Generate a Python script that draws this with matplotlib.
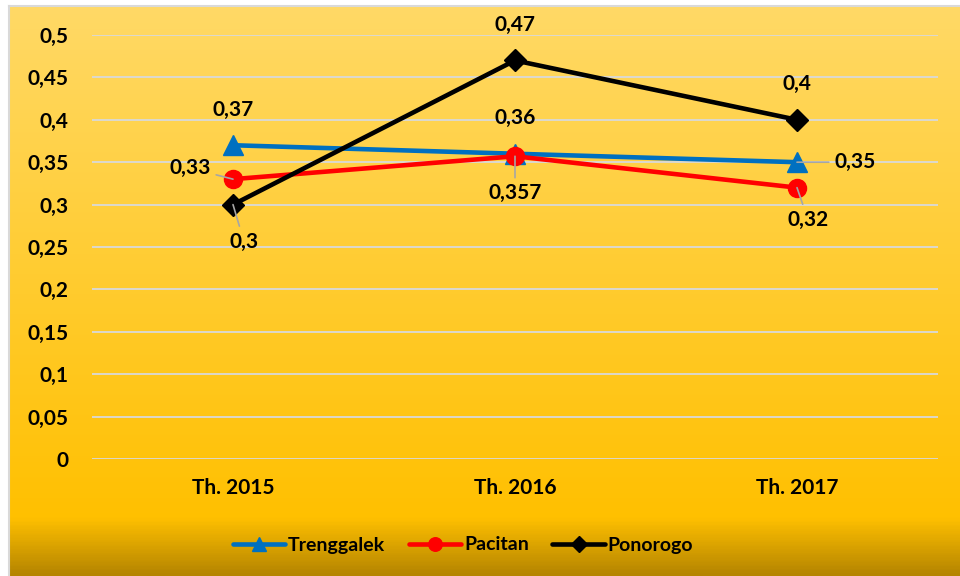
import matplotlib
matplotlib.use('Agg')
import matplotlib.pyplot as plt
import numpy as np
from matplotlib.colors import LinearSegmentedColormap
from matplotlib.lines import Line2D

plt.rcParams['font.family'] = ['Lato', 'DejaVu Sans']
plt.rcParams['font.weight'] = 'bold'

years = ['Th. 2015', 'Th. 2016', 'Th. 2017']
trenggalek = [0.37, 0.36, 0.35]
pacitan = [0.33, 0.357, 0.32]
ponorogo = [0.3, 0.47, 0.4]
yticks = [0, 0.05, 0.1, 0.15, 0.2, 0.25, 0.3, 0.35, 0.4, 0.45, 0.5]

# label offsets in pixels, and whether a leader line is drawn
offs_tr = [((0, 35), False), ((0, 36), False), ((58, 0), True)]
offs_pa = [((-43, 11), True), ((0, -37), True), ((11, -32), True)]
offs_po = [((11, -37), True), ((0, 35), False), ((0, 36), False)]

FS = 15
W = 'bold'


def fmt(v):
    s = ('%.3f' % v).rstrip('0').rstrip('.')
    return s.replace('.', ',')


fig = plt.figure(figsize=(9.6, 5.76), dpi=100, facecolor='white')

# gradient background of the chart area
bg = fig.add_axes([10 / 960, 0, 950 / 960, 569 / 576], zorder=-5)
cmap = LinearSegmentedColormap.from_list(
    'g', [(0, '#FFD966'), (0.9, '#FFC000'), (1.0, '#B58500')])
grad = np.linspace(0, 1, 400).reshape(-1, 1)
bg.imshow(grad, aspect='auto', cmap=cmap, extent=[0, 1, 0, 1], origin='upper')
bg.set_axis_off()
fig.add_artist(Line2D([9 / 960, 9 / 960], [0, 570 / 576], color='#D9D9D9', lw=1.5))
fig.add_artist(Line2D([9 / 960, 1], [570 / 576, 570 / 576], color='#D9D9D9', lw=1.5))

ax = fig.add_axes([92 / 960, 117 / 576, 846 / 960, 424 / 576])
ax.patch.set_alpha(0)
x = np.arange(len(years))

series = [
    ('Trenggalek', trenggalek, '#0070C0', '^', 14, offs_tr),
    ('Pacitan', pacitan, '#FF0000', 'o', 13, offs_pa),
    ('Ponorogo', ponorogo, '#000000', 'D', 11, offs_po),
]

for name, vals, col, mk, ms, offs in series:
    ax.plot(x, vals, color=col, lw=3.3, marker=mk, ms=ms, label=name,
            solid_capstyle='round', zorder=3)
    for xi, v, (off, lead) in zip(x, vals, offs):
        arrow = dict(arrowstyle='-', color='#A6A6A6', lw=1.2, shrinkA=2, shrinkB=0) if lead else None
        ax.annotate(fmt(v), (xi, v), xytext=off, textcoords='offset pixels',
                    ha='center', va='center', fontsize=FS, fontweight=W,
                    arrowprops=arrow, zorder=5)

ax.set_xlim(-0.5, 2.5)
ax.set_ylim(0, 0.5)
ax.set_yticks(yticks)
ax.set_yticklabels([fmt(t) for t in yticks], fontweight=W)
ax.set_xticks(x)
ax.set_xticklabels(years, fontweight=W)
ax.tick_params(axis='both', length=0, labelsize=FS)
ax.tick_params(axis='y', pad=17)
ax.tick_params(axis='x', pad=14)
ax.grid(axis='y', color='#D9D9D9', lw=1.3, zorder=0)
ax.set_axisbelow(True)
for sp in ax.spines.values():
    sp.set_visible(False)

fig.legend(loc='center', bbox_to_anchor=(463 / 960, 1 - 545 / 576), ncol=3, frameon=False,
           prop={'size': 14, 'weight': W}, handlelength=2.7, handletextpad=0.15,
           columnspacing=1.2, markerscale=0.75)

fig.savefig('out.png', dpi=100, facecolor='white')
